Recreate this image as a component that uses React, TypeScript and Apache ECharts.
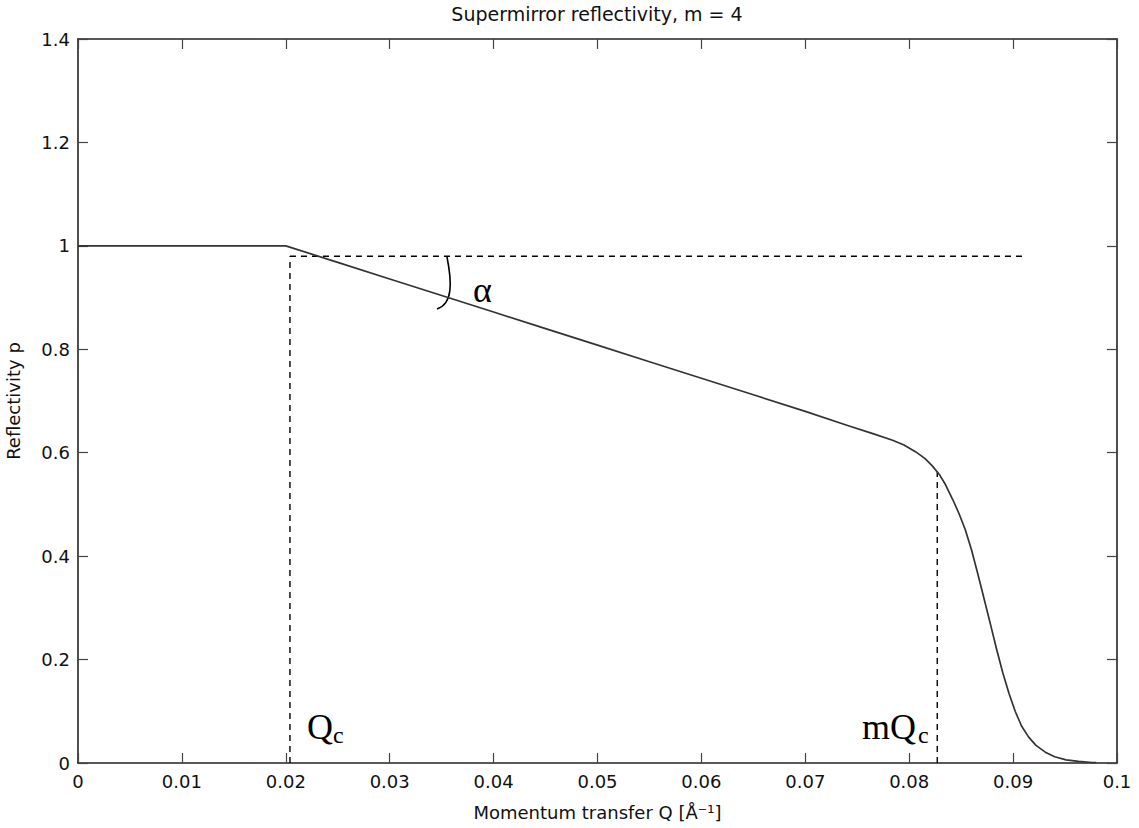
import React, { useEffect, useRef } from "react";
import * as echarts from "echarts";

// Reflectivity curve: [Q (1/Å), R]
const curveQ = [
  0, 0.02, 0.025, 0.03, 0.035, 0.04, 0.045, 0.05, 0.055, 0.06, 0.065, 0.07, 0.074, 0.0765,
  0.0784, 0.0795, 0.0806, 0.0815, 0.0822, 0.0829, 0.0835, 0.0842, 0.0848, 0.0854, 0.086,
  0.0866, 0.0872, 0.0878, 0.0884, 0.089, 0.0896, 0.0902, 0.0908, 0.0915, 0.0922, 0.0931,
  0.094, 0.0951, 0.0963, 0.0976, 0.098,
];
const curveR = [
  1, 1, 0.968, 0.936, 0.904, 0.872, 0.84, 0.808, 0.776, 0.744, 0.712, 0.68, 0.653, 0.637,
  0.624, 0.615, 0.602, 0.589, 0.575, 0.558, 0.538, 0.509, 0.482, 0.451, 0.412,
  0.366, 0.318, 0.27, 0.221, 0.175, 0.135, 0.1, 0.072, 0.05, 0.034, 0.021,
  0.012, 0.006, 0.003, 0.001, 0.0008,
];

// Dashed guide lines
const qcLine = [[0.0204, 0], [0.0204, 0.98]];
const refLine = [[0.0204, 0.98], [0.0911, 0.98]];
const mqcLine = [[0.0827, 0], [0.0827, 0.562]];

const xTicks = { min: 0, max: 0.1, interval: 0.01 };
const yTicks = { min: 0, max: 1.4, interval: 0.2 };

const titleText = "Supermirror reflectivity, m = 4";
const xName = "Momentum transfer Q [Å⁻¹]";
const yName = "Reflectivity p";

const SANS = "DejaVu Sans";
const SERIF = "Liberation Serif";

export default function App() {
  const ref = useRef<HTMLDivElement>(null);
  useEffect(() => {
    if (!ref.current) return;
    const chart = echarts.init(ref.current, undefined, { renderer: "svg" });
    const axisLine = { show: true, onZero: false, lineStyle: { color: "#222", width: 1.6 } };
    const tick = { show: true, inside: true, length: 10, lineStyle: { color: "#444", width: 1.2 } };
    const dash = (data: number[][]) => ({
      type: "line",
      data,
      showSymbol: false,
      symbol: "none",
      lineStyle: { color: "#000", width: 1.4, type: [6, 5] },
      silent: true,
      z: 1,
    });
    chart.setOption({
      animation: false,
      backgroundColor: "#fff",
      grid: {
        left: 78,
        right: 22,
        top: 39,
        bottom: 65,
        containLabel: false,
        outerBoundsMode: "none",
      },
      xAxis: [
        {
          type: "value",
          ...xTicks,
          position: "bottom",
          axisLine,
          axisTick: tick,
          splitLine: { show: false },
          axisLabel: { color: "#111", fontSize: 18, fontFamily: SANS, margin: 9 },
          name: xName,
          nameLocation: "middle",
          nameGap: 40,
          nameTextStyle: { color: "#111", fontSize: 18, fontFamily: SANS },
        },
        {
          type: "value",
          ...xTicks,
          position: "top",
          axisLine,
          axisTick: tick,
          splitLine: { show: false },
          axisLabel: { show: false },
        },
      ],
      yAxis: [
        {
          type: "value",
          ...yTicks,
          position: "left",
          axisLine,
          axisTick: tick,
          splitLine: { show: false },
          axisLabel: { color: "#111", fontSize: 18, fontFamily: SANS, margin: 8 },
          name: yName,
          nameLocation: "middle",
          nameGap: 56,
          nameTextStyle: { color: "#111", fontSize: 18, fontFamily: SANS },
        },
        {
          type: "value",
          ...yTicks,
          position: "right",
          axisLine,
          axisTick: tick,
          splitLine: { show: false },
          axisLabel: { show: false },
        },
      ],
      series: [
        {
          type: "line",
          data: curveQ.map((q, i) => [q, curveR[i]]),
          showSymbol: false,
          symbol: "none",
          smooth: false,
          lineStyle: { color: "#333", width: 1.7, join: "round" },
          z: 3,
        },
        dash(qcLine),
        dash(refLine),
        dash(mqcLine),
      ],
      graphic: [
        {
          type: "text",
          x: 597,
          y: 14,
          style: { text: titleText, fontSize: 19, fontFamily: SANS, fill: "#111", align: "center", verticalAlign: "middle" },
        },
        {
          type: "text",
          x: 307,
          y: 727,
          style: { text: "Q", fontSize: 36, fontFamily: SERIF, fill: "#000", align: "left", verticalAlign: "middle" },
        },
        {
          type: "text",
          x: 333,
          y: 735,
          style: { text: "c", fontSize: 24, fontFamily: SERIF, fill: "#000", align: "left", verticalAlign: "middle" },
        },
        {
          type: "text",
          x: 862,
          y: 727,
          style: { text: "mQ", fontSize: 36, fontFamily: SERIF, fill: "#000", align: "left", verticalAlign: "middle" },
        },
        {
          type: "text",
          x: 918,
          y: 735,
          style: { text: "c", fontSize: 24, fontFamily: SERIF, fill: "#000", align: "left", verticalAlign: "middle" },
        },
        {
          type: "text",
          x: 473,
          y: 290,
          style: { text: "α", fontSize: 36, fontFamily: SERIF, fill: "#000", align: "left", verticalAlign: "middle" },
        },
        {
          type: "bezierCurve",
          shape: { x1: 447, y1: 257, cpx1: 452, cpy1: 282, cpx2: 453, cpy2: 304, x2: 437, y2: 309 },
          style: { stroke: "#000", lineWidth: 1.6, fill: "none" },
        },
      ],
    });
    return () => chart.dispose();
  }, []);
  return (
    <div
      ref={ref}
      style={{ position: "absolute", left: 0, top: 0, width: 1139, height: 828, background: "#fff" }}
    />
  );
}
